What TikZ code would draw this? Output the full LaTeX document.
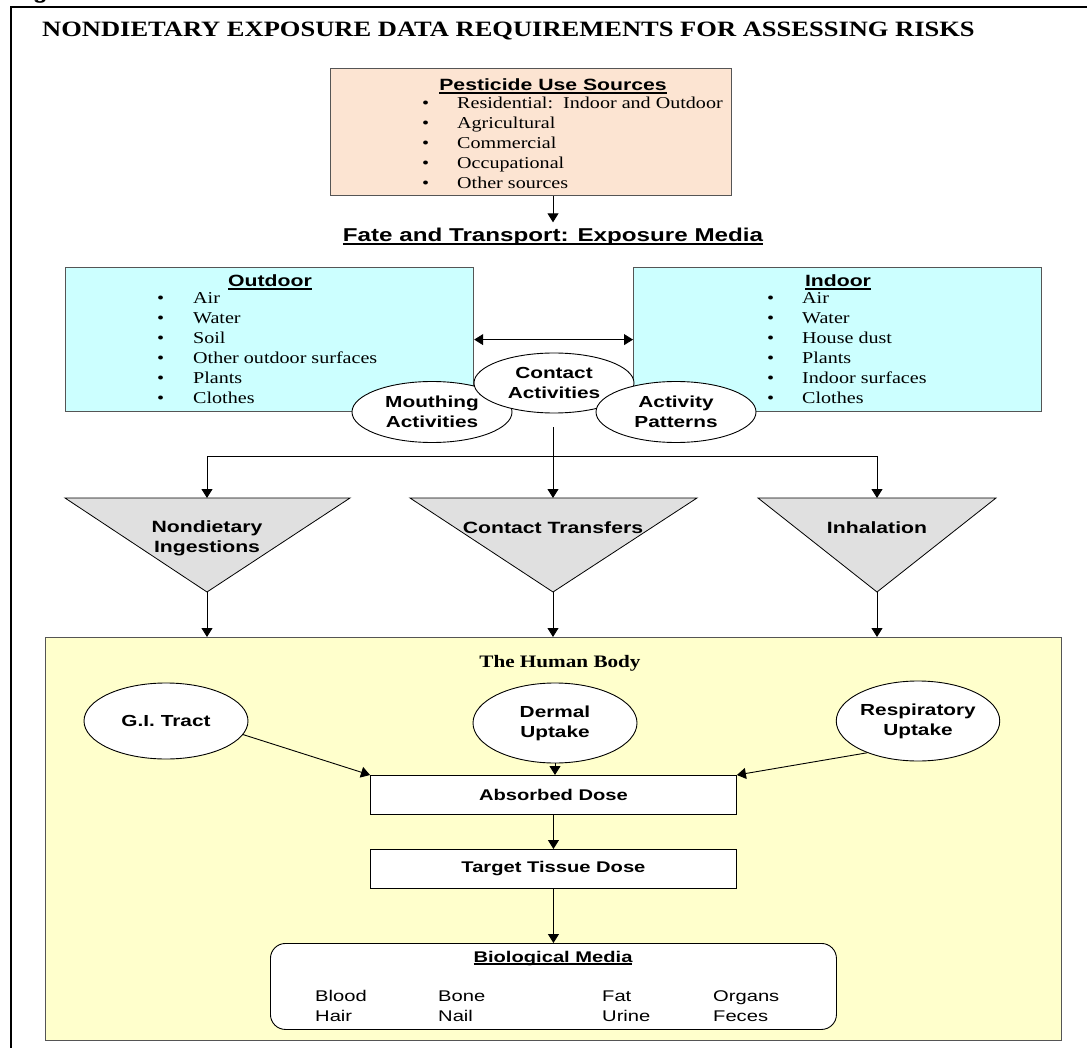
\documentclass[tikz,border=0pt]{standalone}
\usepackage{fontspec}
\setmainfont{Liberation Serif}[FakeStretch=1.21]
\setsansfont{Liberation Sans}[FakeStretch=1.3]
\usetikzlibrary{arrows.meta,shapes.geometric}
\definecolor{peach}{RGB}{252,228,210}
\definecolor{lcyan}{RGB}{204,255,255}
\definecolor{lyellow}{RGB}{255,255,204}
\definecolor{tgray}{RGB}{224,224,224}
\definecolor{edgegray}{RGB}{85,85,85}
\newcommand\ulx[1]{\setbox0\hbox{#1}\rlap{\rule[-2.6pt]{\wd0}{1.3pt}}\box0}
\tikzset{
  box/.style={draw=edgegray, line width=1.2pt, inner sep=0, anchor=north west},
  wbox/.style={draw=black, fill=white, line width=0.9pt, inner sep=0, anchor=north west,
    font=\sffamily\bfseries\fontsize{15.5}{19}\selectfont},
  arr/.style={-{Triangle[length=9pt,width=11pt]}, line width=0.9pt},
  darr/.style={{Triangle[length=9pt,width=11pt]}-{Triangle[length=9pt,width=11pt]}, line width=0.9pt},
  ell/.style={ellipse, draw=black, fill=white, line width=0.9pt, inner sep=0, align=center,
    font=\sffamily\bfseries\fontsize{16}{20}\selectfont},
  circ/.style={ellipse, draw=black, fill=white, line width=0.9pt, inner sep=0, align=center,
    font=\sffamily\bfseries\fontsize{16}{20}\selectfont},
  tri/.style={draw=black, fill=tgray, line width=0.8pt, line join=miter},
  sitem/.style={anchor=base west, inner sep=0, font=\fontsize{16.6}{20}\selectfont},
  bitem/.style={anchor=base west, inner sep=0, font=\sffamily\fontsize{15.5}{20}\selectfont},
  shead/.style={anchor=base, inner sep=0, font=\sffamily\bfseries\fontsize{16.3}{20}\selectfont},
  trilbl/.style={inner sep=0, align=center, font=\sffamily\bfseries\fontsize{16.3}{20}\selectfont},
}
\begin{document}
\begin{tikzpicture}[x=1pt,y=-1pt]
\useasboundingbox (0,0) rectangle (1087,1048);
\fill[white] (0,0) rectangle (1087,1048);

% cut-off figure label and frame
\node[anchor=base west, inner sep=0, font=\sffamily\bfseries\fontsize{18}{20}\selectfont] (figlbl) at (12,-0.5) {Figure};
\draw[line width=2.6pt] (11,1070) -- (11,7) -- (1100,7);

\node[anchor=base west, inner sep=0, font=\bfseries\fontsize{21.9}{24}\selectfont] (title) at (42,37)
  {NONDIETARY EXPOSURE DATA REQUIREMENTS FOR ASSESSING RISKS};

% pesticide use sources
\node[box, fill=peach, minimum width=401, minimum height=127] (pes) at (330,68) {};
\node[shead] (peshead) at (553,91) {\ulx{Pesticide Use Sources}};
\foreach \t [count=\i] in {Residential:\ \ Indoor and Outdoor, Agricultural, Commercial, Occupational, Other sources}
  \node[sitem] (pi\i) at (422,{109+19.8*(\i-1)}) {\makebox[35pt][l]{•}\t};

\node[anchor=base, inner sep=0, font=\sffamily\bfseries\fontsize{18.6}{22}\selectfont] (fate) at (553,242)
  {\ulx{Fate and Transport: Exposure Media}};
\draw[arr, shorten >=6pt] (pes.south -| fate) -- (fate.north);

% outdoor / indoor
\node[box, fill=lcyan, minimum width=408, minimum height=144] (outd) at (65,267) {};
\node[box, fill=lcyan, minimum width=408, minimum height=144] (ind) at (633,267) {};
\node[shead] (outhead) at (270,287) {\ulx{Outdoor}};
\node[shead] (inhead) at (838,287) {\ulx{Indoor}};
\foreach \t [count=\i] in {Air, Water, Soil, Other outdoor surfaces, Plants, Clothes}
  \node[sitem] (oi\i) at (157,{304+20*(\i-1)}) {\makebox[36pt][l]{•}\t};
\foreach \t [count=\i] in {Air, Water, House dust, Plants, Indoor surfaces, Clothes}
  \node[sitem] (ii\i) at (767,{304+20*(\i-1)}) {\makebox[35pt][l]{•}\t};
\draw[darr] (outd.east) -- (ind.west);

% activity ellipses
\node[ell, minimum width=160, minimum height=61] (mouth) at (432,412) {Mouthing\\Activities};
\node[ell, minimum width=160, minimum height=60] (contact) at (554,383) {Contact\\Activities};
\node[ell, minimum width=160, minimum height=61] (actp) at (676,412) {Activity\\Patterns};

% triangles
\coordinate (t1l) at (65,498);  \coordinate (t1r) at (350,498); \coordinate (t1b) at (207,592);
\coordinate (t2l) at (410,498); \coordinate (t2r) at (697,498); \coordinate (t2b) at (553,592);
\coordinate (t3l) at (758,498); \coordinate (t3r) at (996,498); \coordinate (t3b) at (877,592);
\draw[tri] (t1l) -- (t1r) -- (t1b) -- cycle;
\draw[tri] (t2l) -- (t2r) -- (t2b) -- cycle;
\draw[tri] (t3l) -- (t3r) -- (t3b) -- cycle;
\node[trilbl] (ingest) at (207,538) {Nondietary\\Ingestions};
\node[trilbl, anchor=base] (transf) at (553,533) {Contact Transfers};
\node[trilbl, anchor=base] (inhal) at (877,533) {Inhalation};

\coordinate (split) at (553,456);
\draw[arr, shorten <=14pt] (contact.south -| t2b) -- (t2b |- t2l);
\draw[arr] (split) -- (t1b |- split) -- (t1b |- t1l);
\draw[arr] (split) -- (t3b |- split) -- (t3b |- t3l);

% human body
\node[box, fill=lyellow, minimum width=1016, minimum height=403] (body) at (45,637) {};
\draw[arr] (t1b) -- (t1b |- body.north);
\draw[arr] (t2b) -- (t2b |- body.north);
\draw[arr] (t3b) -- (t3b |- body.north);
\node[anchor=base, inner sep=0, font=\bfseries\fontsize{17.5}{20}\selectfont] (bodytitle) at (560,667) {The Human Body};

\node[circ, minimum width=164, minimum height=76] (gi) at (166,721) {G.I. Tract};
\node[circ, minimum width=164, minimum height=80] (derm) at (555,723) {Dermal\\Uptake};
\node[circ, minimum width=158, minimum height=80] (resp) at (918,721) {Respiratory\\Uptake};

\node[wbox, minimum width=366, minimum height=39] (ab) at (370,775) {Absorbed Dose};
\node[wbox, minimum width=366, minimum height=39] (tt) at (370,849) {Target Tissue Dose};
\node[wbox, rounded corners=15pt, minimum width=566, minimum height=86] (bio) at (270,943) {};

\draw[arr] (gi.-10) -- (ab.north west);
\draw[arr] (derm.south) -- (derm.south |- ab.north);
\draw[arr] (resp.212) -- (ab.north east);
\draw[arr] (ab.south) -- (tt.north);
\draw[arr] (tt.south) -- (bio.north);

\node[shead, font=\sffamily\bfseries\fontsize{15.5}{20}\selectfont] (biohead) at (553,962) {\ulx{Biological Media}};
\node[bitem] (b1) at (315,1001) {Blood};
\node[bitem] (b2) at (438,1001) {Bone};
\node[bitem] (b3) at (602,1001) {Fat};
\node[bitem] (b4) at (713,1001) {Organs};
\node[bitem] (b5) at (315,1021) {Hair};
\node[bitem] (b6) at (438,1021) {Nail};
\node[bitem] (b7) at (602,1021) {Urine};
\node[bitem] (b8) at (713,1021) {Feces};
\end{tikzpicture}
\end{document}
